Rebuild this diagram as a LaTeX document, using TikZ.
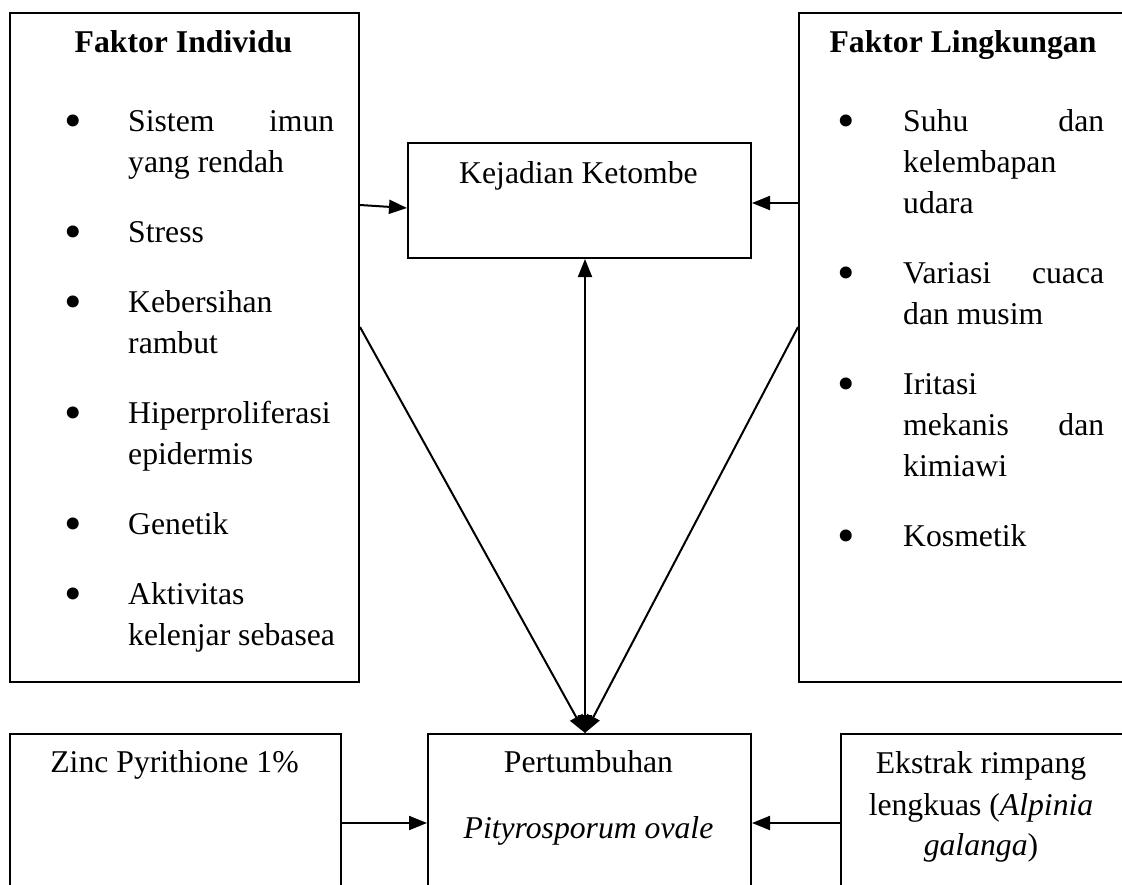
\documentclass[tikz,border=0pt]{standalone}
\usepackage{fontspec}
\setmainfont{Liberation Serif}
\usetikzlibrary{arrows.meta,calc}
\begin{document}
\begin{tikzpicture}[x=1pt,y=-1pt,
  box/.style={draw,line width=2pt,rectangle,inner sep=0pt,anchor=north west},
  txt/.style={inner sep=0pt,anchor=base west,font=\fontsize{31.7}{41}\selectfont},
  ctxt/.style={inner sep=0pt,anchor=base,font=\fontsize{31.7}{41}\selectfont},
  title/.style={inner sep=0pt,anchor=base,font=\fontsize{31.7}{41}\selectfont\bfseries},
  bul/.style={inner sep=0pt,anchor=base,font=\fontsize{50}{50}\selectfont},
  conn/.style={line width=2pt,-{Triangle[length=18pt,width=14pt]}},
  dconn/.style={line width=2pt,{Triangle[length=18pt,width=14pt]}-{Triangle[length=18pt,width=14pt]}}
]
\clip (0,0) rectangle (1122,884);

% boxes
\node[box,minimum width=349pt,minimum height=669pt] (indiv) at (9,12) {};
\node[box,minimum width=330pt,minimum height=669pt] (ling) at (798,12) {};
\node[box,minimum width=343pt,minimum height=115pt] (kej) at (407,142) {};
\node[box,minimum width=331pt,minimum height=220pt] (zinc) at (9,733) {};
\node[box,minimum width=323pt,minimum height=220pt] (pert) at (427,733) {};
\node[box,minimum width=290pt,minimum height=220pt] (eks) at (840,733) {};

% left box text
\node[title] (ti) at (183.5,52) {Faktor Individu};
\node[bul] (b1) at (73,137) {•};
\node[txt] (l1) at (128,131) {\hbox to 206pt{Sistem\hfill imun}};
\node[txt] (l2) at (128,172) {yang rendah};
\node[bul] (b2) at (73,248) {•};
\node[txt] (l3) at (128,242) {Stress};
\node[bul] (b3) at (73,318) {•};
\node[txt] (l4) at (128,312) {Kebersihan};
\node[txt] (l5) at (128,353) {rambut};
\node[bul] (b4) at (73,429) {•};
\node[txt] (l6) at (128,423) {Hiperproliferasi};
\node[txt] (l7) at (128,464) {epidermis};
\node[bul] (b5) at (73,540) {•};
\node[txt] (l8) at (128,534) {Genetik};
\node[bul] (b6) at (73,610) {•};
\node[txt] (l9) at (128,604) {Aktivitas};
\node[txt] (l10) at (128,645) {kelenjar sebasea};

% right box text
\node[title] (tl) at (963,52) {Faktor Lingkungan};
\node[bul] (c1) at (846,137) {•};
\node[txt] (r1) at (903,131) {\hbox to 201pt{Suhu\hfill dan}};
\node[txt] (r2) at (903,172) {kelembapan};
\node[txt] (r3) at (903,213) {udara};
\node[bul] (c2) at (846,289) {•};
\node[txt] (r4) at (903,283) {\hbox to 201pt{Variasi\hfill cuaca}};
\node[txt] (r5) at (903,324) {dan musim};
\node[bul] (c3) at (846,400) {•};
\node[txt] (r6) at (903,394) {Iritasi};
\node[txt] (r7) at (903,435) {\hbox to 201pt{mekanis\hfill dan}};
\node[txt] (r8) at (903,476) {kimiawi};
\node[bul] (c4) at (846,552) {•};
\node[txt] (r9) at (903,546) {Kosmetik};

% other texts
\node[ctxt] (tk) at (578.5,183) {Kejadian Ketombe};
\node[ctxt] (tz) at (174.5,772) {Zinc Pyrithione 1\%};
\node[ctxt] (tp1) at (588.5,772) {Pertumbuhan};
\node[ctxt] (tp2) at (588.5,838) {\itshape Pityrosporum ovale};
\node[ctxt] (te1) at (981,773) {Ekstrak rimpang};
\node[ctxt] (te2) at (981,815) {lengkuas (\textit{Alpinia}};
\node[ctxt] (te3) at (981,855) {\textit{galanga})};

% connectors
\coordinate (pt) at ($(pert.north west)+(158,0)$);
\coordinate (kb) at ($(kej.south west)+(178,0)$);
\draw[conn] ($(indiv.north east)+(0,193)$) -- ($(kej.north west)+(0,66)$);
\draw[conn] ($(ling.north west)+(0,191)$) -- ($(kej.north east)+(0,61)$);
\draw[dconn] (pt) -- (kb);
\draw[conn] ($(indiv.north east)+(0,315)$) -- (pt);
\draw[conn] ($(ling.north west)+(0,315)$) -- (pt);
\draw[conn] ($(zinc.north east)+(0,90)$) -- ($(pert.north west)+(0,90)$);
\draw[conn] ($(eks.north west)+(0,90)$) -- ($(pert.north east)+(0,90)$);
\end{tikzpicture}
\end{document}
